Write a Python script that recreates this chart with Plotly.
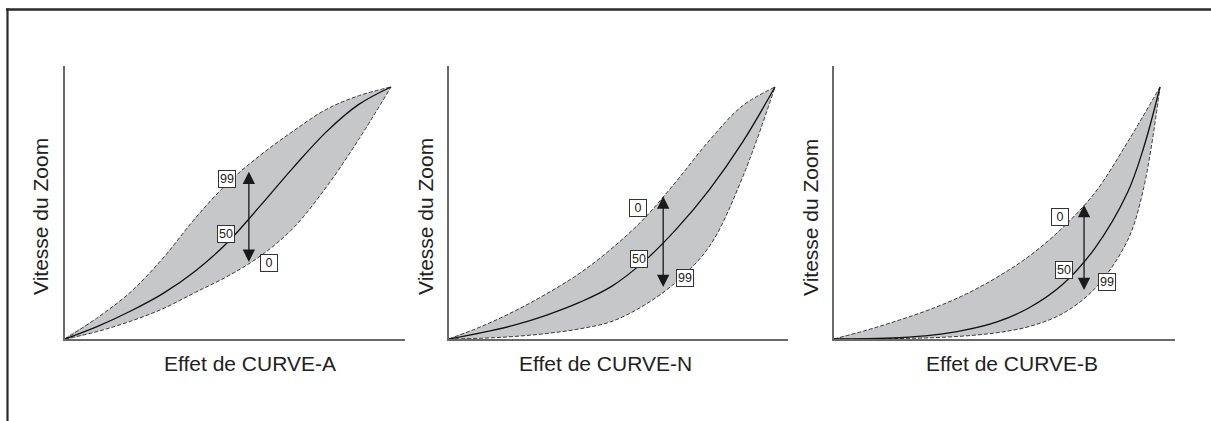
import plotly.graph_objects as go

W, H = 1211, 421

# ---------------- data (normalised: origin (0,0) to end point (1,1)) ----------------
titles_x = ["Effet de CURVE-A", "Effet de CURVE-N", "Effet de CURVE-B"]
title_y = "Vitesse du Zoom"

grid = [0, 0.1, 0.2, 0.3, 0.4, 0.5, 0.6, 0.7, 0.8, 0.9, 1.0]

# CURVE-A
a_up_x = grid
a_up_y = [0, 0.085, 0.185, 0.32, 0.48, 0.62, 0.73, 0.825, 0.91, 0.965, 1.0]
a_mid_x = grid
a_mid_y = [0, 0.05, 0.11, 0.18, 0.27, 0.385, 0.53, 0.68, 0.82, 0.93, 1.0]
a_lo_x = grid
a_lo_y = [0, 0.03, 0.07, 0.12, 0.185, 0.25, 0.33, 0.44, 0.6, 0.79, 1.0]

# CURVE-N
n_up_x = grid
n_up_y = [0, 0.05, 0.11, 0.18, 0.26, 0.36, 0.48, 0.63, 0.79, 0.925, 1.0]
n_mid_x = grid
n_mid_y = [0, 0.025, 0.055, 0.095, 0.145, 0.21, 0.31, 0.44, 0.595, 0.78, 1.0]
n_lo_x = grid
n_lo_y = [0, 0.003, 0.01, 0.022, 0.04, 0.07, 0.135, 0.23, 0.37, 0.64, 1.0]

# CURVE-B
b_up_x = grid
b_up_y = [0, 0.035, 0.075, 0.12, 0.175, 0.245, 0.33, 0.44, 0.58, 0.78, 1.0]
b_mid_x = [0, 0.1, 0.2, 0.3, 0.4, 0.5, 0.6, 0.7, 0.8, 0.9, 0.95, 1.0]
b_mid_y = [0, 0.001, 0.005, 0.015, 0.035, 0.068, 0.125, 0.215, 0.36, 0.58, 0.76, 1.0]
b_lo_x = [0, 0.1, 0.2, 0.3, 0.4, 0.5, 0.6, 0.7, 0.8, 0.9, 0.95, 1.0]
b_lo_y = [0, 0.0, 0.002, 0.005, 0.012, 0.025, 0.05, 0.1, 0.2, 0.39, 0.6, 1.0]

# arrows: x, bottom, top
arrow_x = [0.564, 0.657, 0.767]
arrow_y0 = [0.30, 0.20, 0.188]
arrow_y1 = [0.664, 0.566, 0.532]

# labels: (text, x, y) per panel
labels_a = [("99", 0.498, 0.635), ("50", 0.495, 0.417), ("0", 0.625, 0.30)]
labels_n = [("0", 0.579, 0.52), ("50", 0.583, 0.317), ("99", 0.724, 0.242)]
labels_b = [("0", 0.693, 0.484), ("50", 0.705, 0.274), ("99", 0.838, 0.226)]

panels = [
    (a_up_x, a_up_y, a_mid_x, a_mid_y, a_lo_x, a_lo_y, labels_a),
    (n_up_x, n_up_y, n_mid_x, n_mid_y, n_lo_x, n_lo_y, labels_n),
    (b_up_x, b_up_y, b_mid_x, b_mid_y, b_lo_x, b_lo_y, labels_b),
]

# ---------------- layout geometry (pixels) ----------------
origin_px = [65, 449, 834]
axis_end_px = [405, 788, 1175]
x_unit = 326.0
y_origin_px, y_top_px, y_unit = 339, 66, 252.0
xtitle_px = [(250, 363), (605, 363), (1012, 363)]
ytitle_px = [(40, 217), (425, 217), (810, 217)]

FONT = "Liberation Sans, Arial, sans-serif"
fig = go.Figure()
annotations = []
layout_axes = {}

for i, (ux, uy, mx, my, lx, ly, labs) in enumerate(panels):
    n = "" if i == 0 else str(i + 1)
    xa, ya = "x" + n, "y" + n
    # fill band
    fig.add_trace(go.Scatter(
        x=list(ux) + list(lx)[::-1], y=list(uy) + list(ly)[::-1], mode="lines", fill="toself",
        fillcolor="#c6c7c9", line=dict(width=0, shape="spline", smoothing=1),
        xaxis=xa, yaxis=ya, hoverinfo="skip", showlegend=False))
    for cx, cy in ((ux, uy), (lx, ly)):
        fig.add_trace(go.Scatter(
            x=cx, y=cy, mode="lines",
            line=dict(color="#3a3a3a", width=1, dash="4px,2px", shape="spline", smoothing=1),
            xaxis=xa, yaxis=ya, hoverinfo="skip", showlegend=False))
    fig.add_trace(go.Scatter(
        x=mx, y=my, mode="lines",
        line=dict(color="#111111", width=1.3, shape="spline", smoothing=1),
        xaxis=xa, yaxis=ya, hoverinfo="skip", showlegend=False))

    x0, x1 = origin_px[i], axis_end_px[i]
    layout_axes["xaxis" + n] = dict(
        domain=[x0 / W, x1 / W], range=[0, (x1 - x0) / x_unit], anchor=ya,
        showline=True, linecolor="#6a6a6a", linewidth=1.5, showgrid=False,
        zeroline=False, showticklabels=False, ticks="", fixedrange=True)
    layout_axes["yaxis" + n] = dict(
        domain=[1 - y_origin_px / H, 1 - y_top_px / H],
        range=[0, (y_origin_px - y_top_px) / y_unit], anchor=xa,
        showline=True, linecolor="#6a6a6a", linewidth=1.5, showgrid=False,
        zeroline=False, showticklabels=False, ticks="", fixedrange=True)

    # double arrow
    annotations.append(dict(
        x=arrow_x[i], y=arrow_y1[i], ax=arrow_x[i], ay=arrow_y0[i],
        xref=xa, yref=ya, axref=xa, ayref=ya, text="", showarrow=True,
        arrowhead=2, startarrowhead=2, arrowside="end+start",
        arrowwidth=1.3, arrowsize=1.9, startarrowsize=1.9,
        arrowcolor="#1a1a1a", standoff=0, startstandoff=0))
    # boxed labels
    for t, lxp, lyp in labs:
        annotations.append(dict(
            x=lxp, y=lyp, xref=xa, yref=ya, text=t, showarrow=False,
            font=dict(family=FONT, size=12.5, color="#222222"),
            bgcolor="white", bordercolor="#333333", borderwidth=1,
            borderpad=1, width=14, height=14))
    # axis titles
    tx, ty = xtitle_px[i]
    annotations.append(dict(
        x=tx / W, y=1 - ty / H, xref="paper", yref="paper", text=titles_x[i],
        showarrow=False, font=dict(family=FONT, size=21, color="#222222"),
        xanchor="center", yanchor="middle"))
    tx, ty = ytitle_px[i]
    annotations.append(dict(
        x=tx / W, y=1 - ty / H, xref="paper", yref="paper", text=title_y,
        textangle=-90, showarrow=False,
        font=dict(family=FONT, size=21, color="#222222"),
        xanchor="center", yanchor="middle"))

shapes = [
    dict(type="line", xref="paper", yref="paper", x0=6 / W, x1=1.0,
         y0=1 - 9.5 / H, y1=1 - 9.5 / H, line=dict(color="#2a2a2a", width=2.5)),
    dict(type="line", xref="paper", yref="paper", x0=7.5 / W, x1=7.5 / W,
         y0=1 - 8.5 / H, y1=0, line=dict(color="#2a2a2a", width=2.2)),
]

fig.update_layout(
    width=W, height=H, margin=dict(l=0, r=0, t=0, b=0),
    paper_bgcolor="white", plot_bgcolor="white",
    showlegend=False, annotations=annotations, shapes=shapes,
    **layout_axes)

fig.write_html(
    "out.html", config={"displayModeBar": False},
    post_script="document.body.style.margin='0';document.body.style.overflow='hidden';")
